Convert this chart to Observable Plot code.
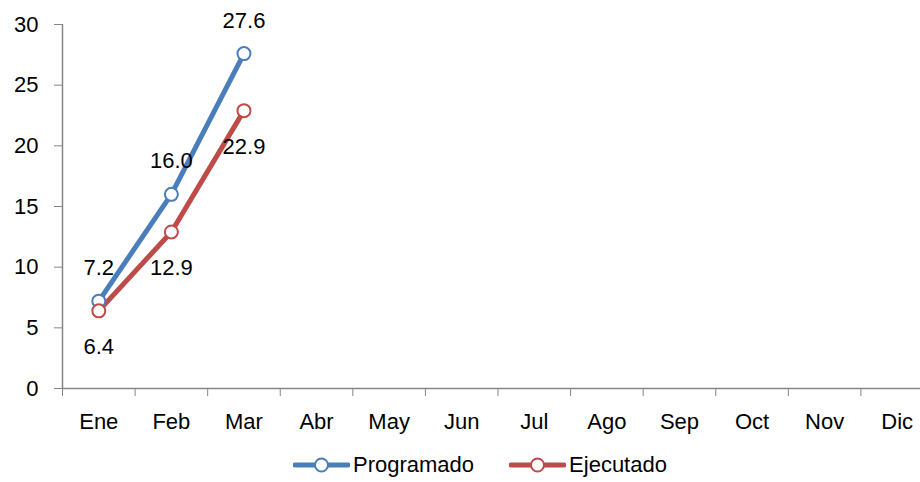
<!DOCTYPE html>
<html>
<head>
<meta charset="utf-8">
<script src="https://cdn.jsdelivr.net/npm/d3@7"></script>
<script src="https://cdn.jsdelivr.net/npm/@observablehq/plot@0.6"></script>
<style>
  body { margin: 0; background: #fff; width: 920px; height: 482px; overflow: hidden; }
  #legend { display: flex; align-items: center; height: 34px; margin-left: 293px;
    font-family: "Liberation Sans Narrow", "Arial Narrow", "Liberation Sans", sans-serif; font-size: 22px; color: #000; }
  .item { display: flex; align-items: center; margin-right: 35px; }
  .item svg { margin-right: 3px; }
</style>
</head>
<body>
<div id="chart"></div>
<div id="legend"></div>
<script>
const months = ["Ene", "Feb", "Mar", "Abr", "May", "Jun", "Jul", "Ago", "Sep", "Oct", "Nov", "Dic"];
const programado = [7.2, 16.0, 27.6];
const ejecutado = [6.4, 12.9, 22.9];
const yTicks = [0, 5, 10, 15, 20, 25, 30];
const seriesNames = ["Programado", "Ejecutado"];
const colors = ["#4A7EBB", "#BE4B48"];

const prog = programado.map((v, i) => ({ x: i + 0.5, v }));
const ejec = ejecutado.map((v, i) => ({ x: i + 0.5, v }));
const font = '"Liberation Sans Narrow", "Arial Narrow", "Liberation Sans", sans-serif';

const chart = Plot.plot({
  width: 920,
  height: 448,
  marginLeft: 62,
  marginRight: -13,
  marginTop: 24,
  marginBottom: 60,
  x: { domain: [0, 12] },
  y: { domain: [0, 30] },
  style: { fontFamily: font, fontSize: "22px", color: "#000", overflow: "visible", background: "#fff" },
  marks: [
    Plot.axisY({ ticks: yTicks, tickSize: 8, tickPadding: 16, stroke: "#868686", fill: "#000", label: null, fontSize: 22 }),
    Plot.axisX({ ticks: d3.range(13), tickSize: 8, stroke: "#868686", tickFormat: () => "", label: null }),
    Plot.axisX({ ticks: d3.range(12).map(i => i + 0.5), tickSize: 0, tickPadding: 25, tickFormat: d => months[Math.floor(d)], fill: "#000", label: null, fontSize: 22 }),
    Plot.ruleX([0], { stroke: "#868686", strokeWidth: 1.5 }),
    Plot.ruleY([0], { stroke: "#868686", strokeWidth: 1.5 }),
    Plot.line(prog, { x: "x", y: "v", stroke: colors[0], strokeWidth: 5, strokeLinecap: "round" }),
    Plot.line(ejec, { x: "x", y: "v", stroke: colors[1], strokeWidth: 5, strokeLinecap: "round" }),
    Plot.dot(prog, { x: "x", y: "v", r: 6.5, fill: "white", stroke: colors[0], strokeWidth: 2 }),
    Plot.dot(ejec, { x: "x", y: "v", r: 6.5, fill: "white", stroke: colors[1], strokeWidth: 2 }),
    Plot.text(prog, { x: "x", y: "v", text: d => d.v.toFixed(1), dy: -33, fill: "#000", fontSize: 22 }),
    Plot.text(ejec, { x: "x", y: "v", text: d => d.v.toFixed(1), dy: 36, fill: "#000", fontSize: 22 })
  ]
});
document.getElementById("chart").appendChild(chart);

const legend = document.getElementById("legend");
seriesNames.forEach((name, i) => {
  const item = document.createElement("div");
  item.className = "item";
  item.innerHTML = `<svg width="57" height="16"><line x1="2" y1="8" x2="55" y2="8" stroke="${colors[i]}" stroke-width="5" stroke-linecap="round"/><circle cx="28.5" cy="8" r="6.5" fill="white" stroke="${colors[i]}" stroke-width="2"/></svg><span>${name}</span>`;
  legend.appendChild(item);
});
</script>
</body>
</html>
